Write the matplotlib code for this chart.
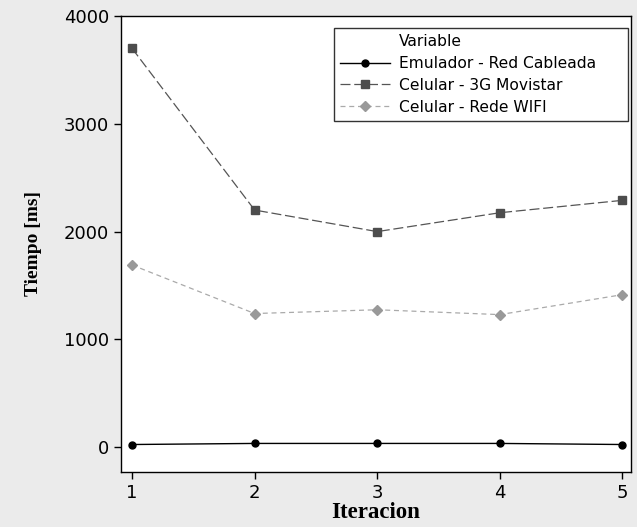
import matplotlib
matplotlib.use("Agg")
import matplotlib.pyplot as plt
from matplotlib.lines import Line2D

iteraciones = [1, 2, 3, 4, 5]
emulador = [25, 35, 35, 35, 25]
movistar_3g = [3700, 2200, 2000, 2175, 2290]
wifi = [1690, 1240, 1275, 1230, 1415]

fig = plt.figure(figsize=(6.37, 5.27), dpi=100, facecolor="#ebebeb")
ax = fig.add_axes([121/637, 1 - 472/527, (631-121)/637, (472-16)/527])
ax.set_facecolor("white")

l1, = ax.plot(iteraciones, emulador, color="black", lw=1.0, marker="o", ms=5,
              label="Emulador - Red Cableada")
l2, = ax.plot(iteraciones, movistar_3g, color="#555555", lw=0.9, ls=(0, (8, 3)),
              marker="s", ms=6, mfc="#4d4d4d", mec="#4d4d4d",
              label="Celular - 3G Movistar")
l3, = ax.plot(iteraciones, wifi, color="#aaaaaa", lw=0.9, ls=(0, (4, 3)),
              marker="D", ms=5, mfc="#999999", mec="#999999",
              label="Celular - Rede WIFI")

ax.set_xlim(0.91, 5.07)
ax.set_ylim(-230, 4000)
ax.set_xticks(iteraciones)
ax.set_yticks([0, 1000, 2000, 3000, 4000])
ax.tick_params(labelsize=13, length=5, width=1, direction="out", colors="black")
for s in ax.spines.values():
    s.set_color("black")
    s.set_linewidth(1)

ax.set_xlabel("Iteracion", family="Liberation Serif", fontweight="bold", fontsize=16.5, labelpad=0)
ax.set_ylabel("Tiempo [ms]", family="Liberation Serif", fontweight="bold", fontsize=14, labelpad=16)

# Title row drawn as an entry with a blank handle so its text lines up with the labels
titulo = Line2D([], [], color="none")
leg = ax.legend([titulo, l1, l2, l3],
                ["Variable", l1.get_label(), l2.get_label(), l3.get_label()],
                loc="upper left", mode="expand",
                bbox_to_anchor=(0.4176, 0.0, 0.5765, 0.9737),
                fontsize=11.2, frameon=True, fancybox=False,
                edgecolor="black", handlelength=3.2, handletextpad=0.55,
                borderaxespad=0, labelspacing=0.44, borderpad=0.4)
leg.get_frame().set_linewidth(1)

fig.savefig("out.png", dpi=100, facecolor=fig.get_facecolor())
